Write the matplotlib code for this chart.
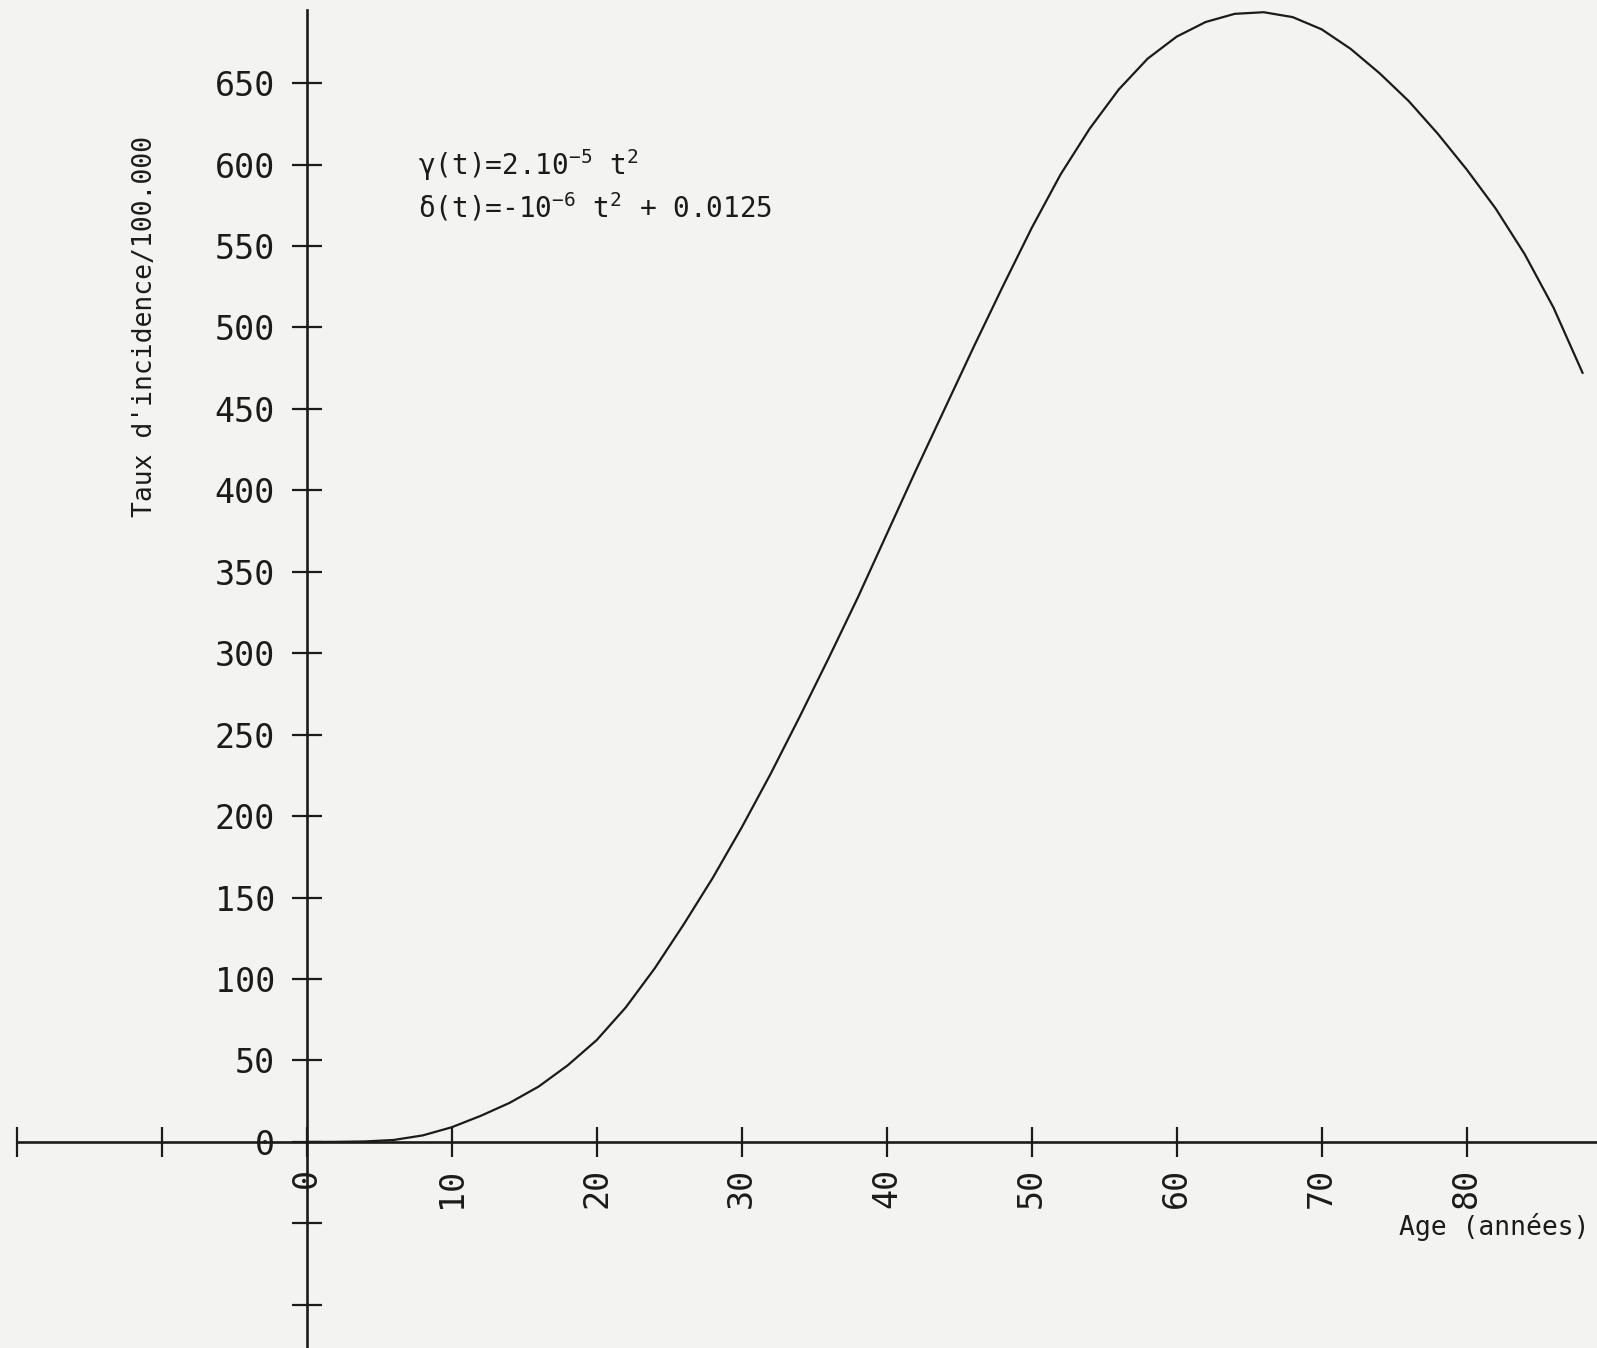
import matplotlib
import matplotlib.pyplot as plt

matplotlib.use("Agg")

MONO = ["DejaVu Sans Mono", "DejaVu Sans"]
plt.rcParams["font.family"] = MONO
plt.rcParams["mathtext.fontset"] = "custom"
plt.rcParams["mathtext.rm"] = "DejaVu Sans Mono"
plt.rcParams["mathtext.it"] = "DejaVu Sans Mono"
plt.rcParams["mathtext.bf"] = "DejaVu Sans Mono:bold"

# values (age in years, rate per 100.000)
AGES = [0, 2, 4, 6, 8, 10, 12, 14, 16, 18, 20, 22, 24, 26, 28, 30, 32, 34, 36,
        38, 40, 42, 44, 46, 48, 50, 52, 54, 56, 58, 60, 62, 64, 66, 68, 70, 72,
        74, 76, 78, 80, 82, 84, 86, 88]
RATES = [0, 0.05, 0.3, 1.2, 4, 9, 16, 24, 34, 47, 62.5, 82.5, 106.5, 133.5,
         162, 193, 226, 261, 297, 334, 373, 412, 450, 488, 525, 561, 594, 622,
         646, 665, 678.5, 687.5, 692.5, 693.5, 690.5, 683, 671, 656, 639, 619,
         597, 573, 545, 512, 472]

X_TICKS = [-20, -10, 0, 10, 20, 30, 40, 50, 60, 70, 80]
X_LABELS = ["", "", "0", "10", "20", "30", "40", "50", "60", "70", "80"]
Y_TICKS = [-100, -50, 0, 50, 100, 150, 200, 250, 300, 350, 400, 450, 500,
           550, 600, 650]
Y_LABELS = ["", ""] + [str(v) for v in Y_TICKS[2:]]

INK = "#1b1b1b"
PAPER = "#f3f3f1"


def main() -> None:
    fig = plt.figure(figsize=(15.97, 13.48), dpi=100, facecolor=PAPER)
    ax = fig.add_axes([0, 0, 1, 1], facecolor=PAPER)
    ax.set_xlim(-21.15, 88.99)
    ax.set_ylim(-126.5, 701.0)

    ax.plot(AGES, RATES, color=INK, lw=1.6, solid_capstyle="round",
            solid_joinstyle="round")

    for side in ("top", "right"):
        ax.spines[side].set_visible(False)
    ax.spines["left"].set_position(("data", 0))
    ax.spines["bottom"].set_position(("data", 0))
    ax.spines["left"].set_bounds(-126.5, 695)
    ax.spines["bottom"].set_bounds(-20, 88.99)
    for side in ("left", "bottom"):
        ax.spines[side].set_color(INK)
        ax.spines[side].set_linewidth(1.9)

    ax.set_xticks(X_TICKS, X_LABELS, rotation=90, fontsize=24)
    ax.set_yticks(Y_TICKS, Y_LABELS, fontsize=24)
    ax.tick_params(axis="both", direction="inout", length=21.6, width=1.6,
                   color=INK, labelcolor=INK)
    ax.tick_params(axis="x", pad=8)
    ax.tick_params(axis="y", pad=12)

    fig.text(0.0908, 0.758, "Taux d'incidence/100.000", rotation=90,
             ha="center", va="center", fontsize=19, color=INK)
    fig.text(0.995, 0.0898, "Age (années)", ha="right", va="center",
             fontsize=19, color=INK)

    fig.text(0.262, 0.870, "γ(t)=2.10$^{-5}$ t$^{2}$", ha="left",
             va="baseline", fontsize=20, color=INK)
    fig.text(0.262, 0.8385, "δ(t)=-10$^{-6}$ t$^{2}$ + 0.0125", ha="left",
             va="baseline", fontsize=20, color=INK)

    fig.savefig("out.png", dpi=100, facecolor=PAPER)
    plt.close("all")


if __name__ == "__main__":
    main()
